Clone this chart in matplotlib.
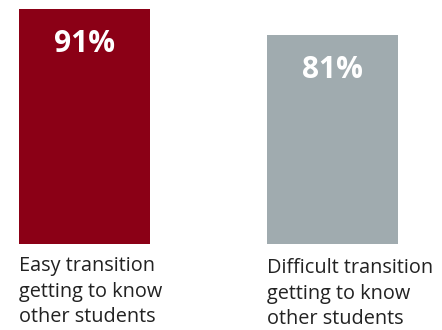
import matplotlib
matplotlib.use('Agg')
import matplotlib.pyplot as plt
import matplotlib.transforms as mtransforms

categories = ['Easy transition\ngetting to know\nother students',
              'Difficult transition\ngetting to know\nother students']
values = [91, 81]
value_labels = ['91%', '81%']
colors = ['#8B0016', '#A0ABAF']

plt.rcParams['font.family'] = ['Open Sans', 'DejaVu Sans']

fig = plt.figure(figsize=(4.42, 3.30), dpi=100)
ax = fig.add_axes([0, 86 / 330, 1, 235 / 330])

x = [0, 1]
bar_w = 131 / 248
ax.bar(x, values, width=bar_w, color=colors, align='center')
ax.set_xlim(-84.5 / 248, (442 - 84.5) / 248)
ax.set_ylim(0, 91)
ax.axis('off')

# value labels inside the bar, near the top
for xi, v, lab in zip(x, values, value_labels):
    ax.annotate(lab, (xi, v), xytext=(0, -25.5), textcoords='offset points',
                ha='center', va='center', color='white', fontsize=21.5,
                fontweight='bold')

# category labels under the bars, left aligned with the bar edge
trans = mtransforms.blended_transform_factory(ax.transData, fig.transFigure)
for xi, cat, dy in zip(x, categories, [0, 2]):
    ax.text(xi - bar_w / 2, (330 - 256 - dy) / 330, cat, transform=trans,
            ha='left', va='top', fontsize=14.3, color='#222222',
            linespacing=1.38)

plt.savefig('out.png', dpi=100)
